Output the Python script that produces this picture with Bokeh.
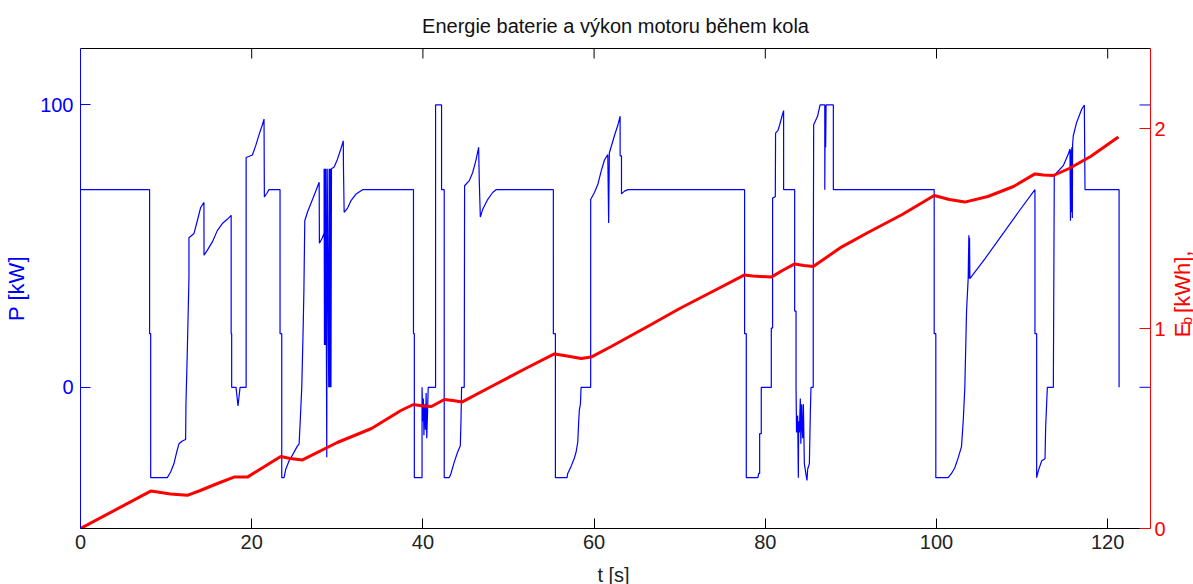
import numpy as np
from bokeh.plotting import figure
from bokeh.layouts import row, column
from bokeh.models import LinearAxis, Range1d, FixedTicker
from bokeh.core.properties import value
from bokeh.embed import file_html
from bokeh.resources import INLINE

# axis ranges and ticks
T_MIN, T_MAX = 0, 125
P_MIN, P_MAX = -50, 120
E_MIN, E_MAX = 0, 2.4
T_TICKS = [0, 20, 40, 60, 80, 100, 120]
P_TICKS = [0, 100]
E_TICKS = [0, 1, 2]

# motor power during the lap: time [s]
t_power = [
    0, 8.07, 8.07, 8.2, 8.2, 10.14, 10.53, 10.92, 11.23, 11.5, 11.89, 12.28, 12.32, 12.48,
    12.67, 12.67, 13.26, 13.65, 14.04, 14.42, 14.43, 14.81, 15.4, 15.98, 16.57, 17.15,
    17.6, 17.6, 17.66, 17.66, 18.17, 18.4, 18.64, 19.35, 19.35, 20.08, 20.47, 20.86,
    21.25, 21.44, 21.48, 21.83, 22.0, 23.31, 23.31, 23.51, 23.51, 23.78, 23.98, 24.37,
    24.76, 25.3, 25.54, 25.7, 25.85, 26.0, 26.1, 26.2, 26.51, 27.1, 27.49, 27.88, 27.91,
    28.26, 28.46, 28.46, 28.5, 28.55, 28.6, 28.65, 28.77, 28.82, 29.0, 29.05, 29.12,
    29.18, 29.26, 29.32, 29.63, 30.02, 30.41, 30.7, 30.72, 30.8, 31.2, 31.58, 32.2,
    32.95, 38.9, 38.9, 39.0, 39.0, 39.9, 39.9, 40.0, 40.05, 40.12, 40.2, 40.3, 40.38,
    40.45, 40.55, 40.62, 40.94, 41.48, 41.48, 42.18, 42.18, 42.49, 42.49, 43.07, 43.27,
    43.66, 44.05, 44.37, 44.45, 44.52, 44.83, 44.87, 45.42, 45.81, 46.2, 46.51, 46.59,
    46.71, 46.98, 47.56, 48.15, 48.54, 55.24, 55.24, 55.48, 55.48, 56.84, 56.92, 57.31,
    57.7, 57.89, 58.09, 58.2, 58.28, 58.4, 58.48, 59.6, 59.6, 60.04, 60.43, 60.82,
    61.21, 61.6, 61.7, 61.78, 62.38, 62.77, 63.04, 63.04, 63.2, 63.2, 63.55, 63.94,
    77.58, 77.58, 77.78, 77.78, 79.14, 79.22, 79.34, 79.34, 79.53, 79.53, 80.7, 80.7,
    80.85, 80.85, 81.17, 81.2, 81.48, 81.68, 81.95, 82.14, 82.14, 83.43, 83.43, 83.59,
    83.59, 83.65, 83.78, 83.86, 83.9, 83.98, 84.09, 84.15, 84.25, 84.3, 84.37, 84.45,
    84.56, 84.76, 84.87, 84.95, 85.15, 85.26, 85.34, 85.6, 85.6, 85.65, 86.1, 86.4,
    86.95, 86.95, 87.0, 87.05, 87.1, 87.95, 87.95, 99.73, 99.73, 99.92, 99.92, 101.36,
    101.75, 102.14, 102.53, 102.92, 103.12, 103.31, 103.51, 103.7, 103.78, 103.82,
    103.86, 103.9, 105.65, 107.6, 109.55, 111.5, 111.5, 111.7, 111.7, 111.9, 112.29,
    112.68, 112.75, 112.95, 113.65, 113.76, 114.04, 114.81, 115.4, 115.59, 115.65,
    115.7, 115.75, 115.8, 115.87, 115.9, 115.98, 116.37, 116.96, 117.27, 117.35,
    121.33, 121.33,
]
# motor power during the lap: P [kW]
power_kw = [
    70, 70, 19, 19, -32, -32, -30, -27, -23, -20, -19, -18.5, -6, 13,
    39, 53, 54.5, 59, 63.7, 65.5, 46.8, 48.5, 51.5, 55.5, 58, 59.5,
    60.9, 19, 19, 0, 0, -6.6, 0, 0, 81.4, 82.3, 85.6, 89.5,
    93, 95, 67.4, 69, 70, 70, 19, 19, -32, -32, -29, -26,
    -24, -21, -20, -10, 0, 19.4, 34.5, 59, 62, 66.5, 69.5, 72.6, 51,
    53, 54.7, 77.4, 15, 77.4, 15, 77.4, -24.8, 77.4, 0, 77.4, 0,
    77.4, 0, 77.4, 78, 80.8, 84.4, 87.3, 78, 62, 63.5, 66, 68.5,
    70, 70, 19, 19, -32, -32, 0, -12, -4, -17, -6, -15, -2,
    -18, -8, 0, 0, 0, 100, 100, 70, 70, -32, -32, -30.6,
    -26.5, -23, -20.7, -12, 0, 0, 71.4, 73.2, 76, 80.5, 85, 72.6,
    60.3, 63, 66.5, 69, 70, 70, 19, 19, -32, -32, -30.5, -28,
    -25, -23, -19.5, -12, -8, -6, 0, 0, 66.5, 69, 71.8, 76.5,
    80.5, 82.4, 58.2, 83, 89.2, 92.8, 96, 82, 82, 68.5, 69.5, 70,
    70, 19, 19, -32, -32, -30.5, -30.5, -16.4, -16.4, 0, 0, 21,
    21, 67, 67.5, 90, 91, 93, 96, 98, 70, 70, 27, 27,
    0, -16, -10, -32, -12, -16, -4, -20, -6, -14, -18, -6,
    -27, -31, -33, -29, -27, -9, 0, 0, 34, 93, 96, 100,
    100, 70, 100, 85, 100, 100, 70, 70, 19, 19, -32, -32,
    -30.5, -28.5, -25, -21, -12, 0, 27, 38.5, 53.9, 38.5,
    53, 38.5, 45.5, 53.7, 62, 70, 19, 19, -32, -29.5, -26,
    -25.3, -14.2, 0, 0, 75, 76, 78.5, 82.6, 84.4, 59,
    84, 62, 85, 60, 86, 89.1, 93.8, 98.5, 100, 70,
    70, 0,
]

# battery energy drawn during the lap: time [s]
t_energy = [
    0, 8.2, 9.0, 10.5, 12.48, 14.0, 16.0, 17.93, 19.5, 21.5, 23.39, 24.5, 25.93,
    30.0, 34.0, 37.43, 38.9, 40.0, 41.0, 42.5, 43.5, 44.6, 48.0, 52.0, 55.36,
    56.5, 58.48, 59.65, 62.0, 66.67, 70.0, 74.07, 77.58, 78.5, 80.7, 82.0, 83.43,
    84.5, 85.6, 88.89, 92.0, 96.0, 99.73, 101.5, 103.3, 106.0, 109.0, 111.5,
    112.5, 113.65, 115.5, 118.0, 121.25,
]
# battery energy drawn during the lap: E_b [kWh]
energy_kwh = [
    0, 0.187, 0.182, 0.172, 0.166, 0.19, 0.225, 0.257, 0.257, 0.31, 0.36, 0.35, 0.343,
    0.43, 0.5, 0.59, 0.62, 0.612, 0.61, 0.645, 0.64, 0.633, 0.71, 0.8, 0.873,
    0.865, 0.85, 0.857, 0.91, 1.02, 1.1, 1.19, 1.268, 1.262, 1.257, 1.29, 1.323,
    1.315, 1.31, 1.407, 1.48, 1.57, 1.665, 1.645, 1.632, 1.66, 1.71, 1.773,
    1.768, 1.765, 1.8, 1.86, 1.957,
]

# axis titles
T_LABEL = "t [s]"
P_LABEL = "P [kW]"
E_LABEL_TEXT = ["E", "b", "[kWh],"]  # E with subscript b, then the unit

BLUE = "#0000ff"
RED = "#ff0000"
DARK = "#222222"
FONT = "Liberation Sans"
W_TOTAL, H_TOTAL = 1193, 584
W_SIDE = 24   # strip on the right carrying the energy axis title
H_FOOT = 24   # strip at the bottom carrying the time axis title
W_MAIN, H_MAIN = W_TOTAL - W_SIDE, H_TOTAL - H_FOOT

p = figure(
    width=W_MAIN, height=H_MAIN,
    x_range=Range1d(T_MIN, T_MAX), y_range=Range1d(P_MIN, P_MAX),
    output_backend="svg", toolbar_location=None,
    x_axis_location=None, y_axis_location=None,
    min_border_left=80, min_border_right=19, min_border_top=48, min_border_bottom=32,
)
p.extra_y_ranges = {"energy": Range1d(E_MIN, E_MAX)}
p.grid.grid_line_color = None
p.outline_line_color = None
p.background_fill_color = "white"
p.border_fill_color = "white"

p.title.text = "Energie baterie a výkon motoru během kola"
p.title.align = "center"
p.title.text_font = FONT
p.title.text_font_size = "20px"
p.title.text_font_style = "normal"
p.title.text_color = "#111111"
p.title.standoff = 24


def style_axis(ax, color, label_size="20px"):
    ax.axis_line_color = color
    ax.axis_line_width = 1
    ax.major_tick_line_color = color
    ax.major_tick_in = 10
    ax.major_tick_out = 0
    ax.minor_tick_line_color = None
    ax.major_label_text_color = color
    ax.major_label_text_font = FONT
    ax.major_label_text_font_size = label_size
    ax.axis_label_text_font = FONT
    ax.axis_label_text_font_style = "normal"
    ax.axis_label_text_color = color


left = LinearAxis(ticker=FixedTicker(ticks=P_TICKS), axis_label=P_LABEL)
style_axis(left, BLUE)
left.major_label_standoff = 7
left.axis_label_text_font_size = "22px"
left.axis_label_standoff = 8
p.add_layout(left, "left")

right = LinearAxis(y_range_name="energy", ticker=FixedTicker(ticks=E_TICKS))
style_axis(right, RED)
right.major_label_standoff = 4
right.major_tick_in = 11
p.add_layout(right, "right")

below = LinearAxis(ticker=FixedTicker(ticks=T_TICKS))
style_axis(below, "#000000")
below.major_label_text_color = DARK
below.major_label_standoff = 6
p.add_layout(below, "below")

# top edge of the box: plain line, ticks drawn separately
above = LinearAxis(ticker=FixedTicker(ticks=[]))
style_axis(above, "#000000")
p.add_layout(above, "above")

# time ticks on the top edge, pointing into the box
p.ray(x=T_TICKS, y=[P_MAX] * len(T_TICKS), length=10, length_units="screen",
      angle=-np.pi / 2, line_color="#000000", line_width=1)
# power axis ticks repeated on the right edge of the box
p.ray(x=[T_MAX] * len(P_TICKS), y=P_TICKS, length=11, length_units="screen",
      angle=np.pi, line_color=BLUE, line_width=1)

p.line(t_power, power_kw, line_color=BLUE, line_width=1.2)
p.line(t_energy, energy_kwh, line_color=RED, line_width=3, y_range_name="energy")


def strip(width, height):
    f = figure(width=width, height=height,
               x_range=Range1d(0, width), y_range=Range1d(0, height),
               output_backend="svg", toolbar_location=None,
               x_axis_location=None, y_axis_location=None, min_border=0)
    f.title.visible = False
    f.outline_line_color = None
    f.background_fill_color = "white"
    f.border_fill_color = "white"
    f.grid.grid_line_color = None
    return f


# right strip: rotated energy axis title, pixel coordinates
q = strip(W_SIDE, H_MAIN)
common = dict(angle=np.pi / 2, text_align="left", text_baseline="middle",
              text_font=value(FONT), text_color=RED)
q.text(x=[12.5], y=[223], text=[E_LABEL_TEXT[0]], text_font_size="22px", **common)
q.text(x=[17], y=[237.7], text=[E_LABEL_TEXT[1]], text_font_size="14px", **common)
q.text(x=[12.5], y=[251.5], text=[E_LABEL_TEXT[2]], text_font_size="22px", **common)

# bottom strip: time axis title
r = strip(W_TOTAL, H_FOOT)
r.text(x=[613], y=[10], text=[T_LABEL], text_align="center", text_baseline="middle",
       text_font=value(FONT), text_font_size="20px", text_color=DARK)

layout = column(row(p, q), r)
open("out.html", "w").write(file_html(layout, INLINE))
